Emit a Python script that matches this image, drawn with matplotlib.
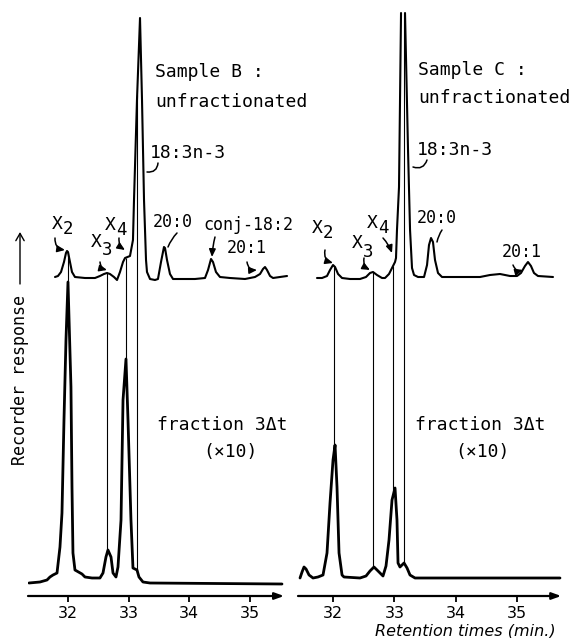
import numpy as np
import matplotlib
matplotlib.use("Agg")
import matplotlib.pyplot as plt
from matplotlib.patches import FancyArrowPatch

# ---------------- data (retention time in min, recorder response in arbitrary units) ----------------
# Sample B, unfractionated (upper trace, left panel)
b_up_t = [31.786, 31.835, 31.885, 31.934, 31.967, 31.984, 32.0, 32.033, 32.066, 32.115, 32.28, 32.445,
          32.527, 32.593, 32.643, 32.692, 32.758, 32.808, 32.857, 32.907, 32.94, 33.022, 33.071, 33.088,
          33.137, 33.187, 33.22, 33.253, 33.286, 33.302, 33.352, 33.434, 33.483, 33.533, 33.582, 33.599,
          33.632, 33.681, 33.731, 33.846, 34.093, 34.258, 34.308, 34.357, 34.39, 34.439, 34.505, 34.67,
          34.918, 35.082, 35.165, 35.214, 35.247, 35.28, 35.33, 35.379, 35.494, 35.61]
b_up_r = [319, 320, 324, 334, 343, 345, 344, 334, 324, 319, 318, 318,
          320, 322, 323, 322, 319, 316, 324, 334, 338, 340, 356, 396,
          496, 578, 496, 396, 336, 324, 317, 316, 317, 334, 349, 348,
          336, 322, 317, 317, 317, 318, 326, 337, 334, 324, 319, 318,
          317, 319, 322, 327, 329, 326, 320, 318, 319, 320]

# Sample B, fraction 3Δt (x10) (lower trace, left panel)
b_lo_t = [31.357, 31.538, 31.654, 31.703, 31.753, 31.819, 31.868, 31.901, 31.934, 31.967, 32.0, 32.049,
          32.066, 32.082, 32.115, 32.231, 32.28, 32.396, 32.527, 32.577, 32.626, 32.659, 32.709, 32.742,
          32.791, 32.824, 32.874, 32.907, 32.956, 32.989, 33.038, 33.071, 33.137, 33.17, 33.236, 33.352,
          35.527]
b_lo_r = [13, 14, 16, 19, 21, 23, 49, 83, 176, 256, 314, 209,
          109, 43, 26, 22, 19, 18, 18, 23, 39, 46, 39, 23,
          19, 29, 76, 196, 237, 176, 76, 28, 26, 19, 14, 13,
          12]

# Sample C, unfractionated (upper trace, right panel); NaN = trace leaves the chart
c_up_t = [31.739, 31.821, 31.902, 31.951, 32.0, 32.033, 32.082, 32.147, 32.277, 32.44, 32.538, 32.603,
          32.652, 32.717, 32.799, 32.848, 32.913, 32.962, 33.011, 33.027, 33.043, 33.076, 33.109, np.nan,
          33.174, 33.223, 33.256, 33.288, 33.321, 33.386, 33.484, 33.533, 33.565, 33.598, 33.63, 33.663,
          33.712, 33.777, 34.071, 34.397, 34.56, 34.723, 34.886, 35.0, 35.065, 35.13, 35.179, 35.228,
          35.277, 35.342, 35.587]
c_up_r = [318, 318, 320, 326, 331, 329, 322, 318, 317, 317, 319, 323,
          324, 321, 318, 318, 322, 328, 334, 338, 366, 409, 583, np.nan,
          583, 446, 366, 328, 321, 319, 319, 331, 351, 358, 354, 336,
          323, 319, 319, 319, 321, 322, 320, 320, 323, 330, 334, 330,
          323, 320, 319]

# Sample C, fraction 3Δt (x10) (lower trace, right panel)
c_lo_t = [31.462, 31.495, 31.527, 31.56, 31.609, 31.674, 31.755, 31.837, 31.902, 31.951, 32.0, 32.033,
          32.065, 32.098, 32.147, 32.179, 32.44, 32.538, 32.603, 32.668, 32.734, 32.815, 32.864, 32.913,
          32.962, 33.011, 33.043, 33.06, 33.092, 33.125, 33.158, 33.207, 33.255, 33.337, 35.701]
c_lo_r = [18, 24, 29, 27, 21, 18, 19, 21, 43, 93, 136, 151,
          109, 43, 21, 19, 18, 20, 25, 29, 25, 20, 30, 56,
          96, 108, 76, 33, 29, 31, 33, 28, 21, 18, 18]

# peaks linked between the two traces (X2, X3, X4, 18:3n-3)
b_link_t = [32.0, 32.65, 32.955, 33.14]
c_link_t = [32.02, 32.65, 32.975, 33.163]

tick_vals = [32, 33, 34, 35]
tick_labels = ["32", "33", "34", "35"]

# ---------------- figure ----------------
W, H = 574, 638
plt.rcParams['font.family'] = ['DejaVu Sans']
fig = plt.figure(figsize=(W / 100, H / 100), dpi=100)
MONO = ['DejaVu Sans Mono', 'DejaVu Sans']


def fx(x):
    return x / W


def fy(y):
    return 1 - y / H


axL = fig.add_axes([fx(28), fy(596), (290 - 28) / W, 596 / H])
axR = fig.add_axes([fx(298), fy(596), (566 - 298) / W, 596 / H])


def setup(ax, xlim, arrow_end):
    ax.set_xlim(*xlim)
    ax.set_ylim(0, 596)
    for s in ax.spines.values():
        s.set_visible(False)
    ax.set_yticks([])
    ax.set_xticks(tick_vals)
    ax.set_xticklabels(tick_labels, fontsize=11.5)
    ax.tick_params(axis='x', direction='out', length=4.5, width=1.3, pad=3, colors='black')
    ax.annotate("", xy=(arrow_end, 0), xytext=(xlim[0], 0), xycoords='data',
                arrowprops=dict(arrowstyle='-|>,head_length=0.55,head_width=0.2', lw=1.6,
                                color='black', shrinkA=0, shrinkB=0),
                annotation_clip=False)
    ax.patch.set_alpha(0)


setup(axL, (31.341, 35.659), 35.56)
setup(axR, (31.429, 35.799), 35.72)


def draw(ax, up_t, up_r, lo_t, lo_r, link_t):
    up_t = np.array(up_t, float)
    up_r = np.array(up_r, float)
    ax.plot(up_t, up_r, color='black', lw=1.5, solid_joinstyle='round', solid_capstyle='round')
    ax.plot(lo_t, lo_r, color='black', lw=2.0, solid_joinstyle='round', solid_capstyle='round')
    m = ~np.isnan(up_t)
    for t in link_t:
        y0 = np.interp(t, lo_t, lo_r)
        y1 = np.interp(t, up_t[m], up_r[m])
        ax.vlines(t, y0, y1, color='black', lw=0.8)


draw(axL, b_up_t, b_up_r, b_lo_t, b_lo_r, b_link_t)
draw(axR, c_up_t, c_up_r, c_lo_t, c_lo_r, c_link_t)

FS = 13


def txt(x, y, s, size=FS, **kw):
    fig.text(fx(x), fy(y), s, fontsize=size, ha='left', va='baseline', family=MONO, **kw)


def xlab(x, y, sub, y_sub):
    txt(x - 1, y, "X", size=13)
    txt(x + 10, y_sub, sub, size=12.5)


def hook(x0, y0, x1, y1, rad=0.4, arrow=True):
    style = '-|>,head_length=0.3,head_width=0.13' if arrow else '-'
    p = FancyArrowPatch((fx(x0), fy(y0)), (fx(x1), fy(y1)), transform=fig.transFigure,
                        arrowstyle=style, connectionstyle=f'arc3,rad={rad}',
                        lw=1.1, color='black', mutation_scale=15, shrinkA=0, shrinkB=0)
    fig.add_artist(p)


# left panel labels
txt(155, 77, "Sample B :")
txt(155, 107, "unfractionated")
txt(150, 158, "18:3n-3")
hook(158, 163, 147, 172, rad=-0.5, arrow=False)
xlab(53, 229, "2", 234)
hook(55, 238, 65, 250, rad=0.45)
xlab(92, 247, "3", 255)
hook(100, 262, 107, 270, rad=0.35)
xlab(106, 230, "4", 235)
hook(119, 238, 125, 250, rad=0.3)
txt(153, 227, "20:0", size=12)
hook(177, 233, 168, 247, rad=0.1, arrow=False)
txt(203, 230, "conj-18:2", size=12)
hook(215, 237, 212, 257, rad=0.05)
txt(227, 253, "20:1", size=12)
hook(247, 262, 257, 270, rad=0.45)
txt(157, 430, "fraction 3Δt")
txt(203, 457, "(×10)")

# right panel labels
txt(418, 75, "Sample C :")
txt(418, 103, "unfractionated")
txt(417, 155, "18:3n-3")
hook(427, 160, 413, 167, rad=-0.5, arrow=False)
xlab(313, 233, "2", 238)
hook(325, 250, 333, 263, rad=0.45)
xlab(353, 248, "3", 257)
hook(364, 258, 370, 270, rad=0.35)
xlab(368, 228, "4", 233)
hook(383, 238, 392, 253, rad=-0.1)
txt(417, 223, "20:0", size=12)
hook(442, 230, 437, 242, rad=0.1, arrow=False)
txt(502, 257, "20:1", size=12)
hook(513, 265, 523, 270, rad=0.45)
txt(415, 430, "fraction 3Δt")
txt(455, 457, "(×10)")

# axis titles
fig.text(fx(20), fy(380), "Recorder response", rotation=90, fontsize=12, family=MONO,
         ha='center', va='center')
fig.add_artist(FancyArrowPatch((fx(20), fy(284)), (fx(20), fy(232)), transform=fig.transFigure,
                               arrowstyle='->,head_length=0.35,head_width=0.2', lw=1.0,
                               color='black', mutation_scale=15, shrinkA=0, shrinkB=0))
fig.text(fx(465), fy(631), "Retention times (min.)", fontsize=11.5, style='italic',
         ha='center', va='center')

fig.savefig("out.png", dpi=100, facecolor='white')
